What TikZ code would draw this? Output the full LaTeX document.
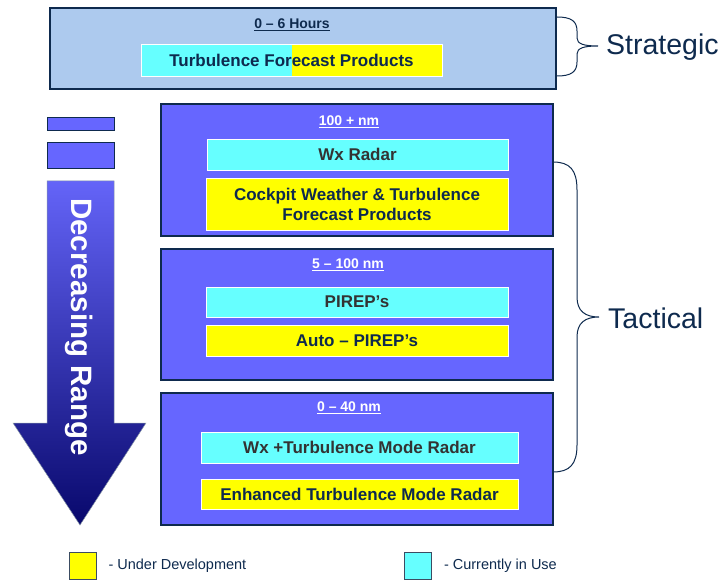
\documentclass[tikz,border=0pt]{standalone}
\usepackage{fontspec}
\setmainfont{Liberation Sans}
\usetikzlibrary{positioning}
\definecolor{navy}{HTML}{0E2A4E}
\definecolor{lightsky}{HTML}{ADCAEE}
\definecolor{periw}{HTML}{6666FF}
\definecolor{aqua}{HTML}{66FFFF}
\definecolor{lemon}{HTML}{FFFF00}
\definecolor{graytext}{HTML}{333333}
\definecolor{arrowtop}{HTML}{6464F8}
\definecolor{arrowbot}{HTML}{08086C}

\begin{document}
\begin{tikzpicture}[
    x=1pt, y=-1pt,
    rangebox/.style={draw=navy, line width=2.5pt, fill=periw,
      minimum width=392pt, minimum height=132pt, inner sep=0pt},
    inuse/.style={draw=white, line width=0.6pt, fill=aqua, text=graytext,
      font=\fontsize{17}{20}\selectfont\bfseries, inner sep=0pt, align=center},
    underdev/.style={inuse, fill=lemon, text=navy},
    rangelabel/.style={text=white, font=\fontsize{14}{16}\selectfont\bfseries},
    sidelabel/.style={text=navy, font=\fontsize{28.5}{32}\selectfont,
      anchor=west, inner sep=0pt},
    bracepath/.style={draw=navy, line width=1pt},
    keybox/.style={draw=navy!60!gray, line width=0.6pt, minimum size=27pt,
      inner sep=0pt},
    keytext/.style={text=navy, font=\fontsize{14.5}{16}\selectfont,
      anchor=west, inner sep=0pt},
    ]
    \useasboundingbox (0,0) rectangle (725,580);

    % strategic
    \node[draw=navy, line width=2.5pt, fill=lightsky, minimum width=506pt,
      minimum height=81pt] (strat) at (303,48.5) {};
    \node[text=navy, font=\fontsize{14}{16}\selectfont\bfseries] (strathead)
      at (292,25) {\underline{0 \textendash{} 6 Hours}};
    \node[draw=white, line width=0.6pt, text=navy, minimum width=301pt,
      minimum height=32pt, inner sep=0pt,
      font=\fontsize{17}{20}\selectfont\bfseries,
      path picture={
        \fill[aqua] (path picture bounding box.south west) rectangle
          (path picture bounding box.north);
        \fill[lemon] (path picture bounding box.south) rectangle
          (path picture bounding box.north east);
      }] (tfp) at (291.5,60) {Turbulence Forecast Products};

    % tactical
    \node[rangebox] (far) at (357,170) {};
    \node[rangelabel] (farhead) at (349,122) {\underline{100 + nm}};
    \node[inuse, minimum width=301pt, minimum height=31pt] (wxradar)
      at (357.5,154.5) {Wx Radar};
    \node[underdev, minimum width=302pt, minimum height=52pt] (cockpit)
      at (357,204) {Cockpit Weather \& Turbulence\\Forecast Products};

    \node[rangebox, minimum height=131pt] (mid) at (357,314.5) {};
    \node[rangelabel] (midhead) at (348,265) {\underline{5 \textendash{} 100 nm}};
    \node[inuse, minimum width=302pt, minimum height=30pt] (pirep)
      at (357,302) {PIREP's};
    \node[underdev, minimum width=302pt, minimum height=31pt] (autopirep)
      at (357,340.5) {Auto \textendash{} PIREP's};

    \node[rangebox] (near) at (357,459) {};
    \node[rangelabel] (nearhead) at (349,408) {\underline{0 \textendash{} 40 nm}};
    \node[inuse, minimum width=317pt, minimum height=31pt] (modeRadar)
      at (359.5,447.5) {Wx +Turbulence Mode Radar};
    \node[underdev, minimum width=317pt, minimum height=30pt] (enhanced)
      at (359.5,494) {Enhanced Turbulence Mode Radar};

    % braces
    \draw[bracepath] (557,17) .. controls (571,17) and (577,21) .. (577,31)
      -- (577,38) .. controls (577,44) and (584,46) .. (598,46)
      .. controls (584,46) and (577,48) .. (577,54)
      -- (577,62) .. controls (577,72) and (571,76) .. (557,76);
    \node[sidelabel] (strategic) at (606,47) {Strategic};

    \draw[bracepath] (553,162) .. controls (570,162) and (577,170) .. (577,190)
      -- (577,297) .. controls (577,311) and (585,317) .. (599,317)
      .. controls (585,317) and (577,323) .. (577,337)
      -- (577,445) .. controls (577,464) and (570,472) .. (553,472);
    \node[sidelabel] (tactical) at (608,318) {Tactical};

    % range arrow
    \node[draw=navy, line width=0.6pt, fill=periw, minimum width=67pt,
      minimum height=13pt, inner sep=0pt] (tick1) at (80.5,123.5) {};
    \node[draw=navy, line width=0.6pt, fill=periw, minimum width=67pt,
      minimum height=26pt, inner sep=0pt] (tick2) at (80.5,155) {};
    \shadedraw[top color=arrowtop, bottom color=arrowbot, draw=navy!50,
      line width=0.5pt]
      (47,181) -- (114,181) -- (114,423) -- (146,423) -- (80,525)
      -- (13,423) -- (47,423) -- cycle;
    \node[rotate=-90, text=white, font=\fontsize{29.5}{32}\selectfont\bfseries]
      (rangetext) at (79,327) {Decreasing Range};

    % key
    \node[keybox, fill=lemon] (devkey) at (82.5,565.5) {};
    \node[keytext, right=12pt of devkey] (devtext) {- Under Development};
    \node[keybox, fill=aqua] (usekey) at (418,565.5) {};
    \node[keytext, right=12pt of usekey] (usetext) {- Currently in Use};
  \end{tikzpicture}
\end{document}
